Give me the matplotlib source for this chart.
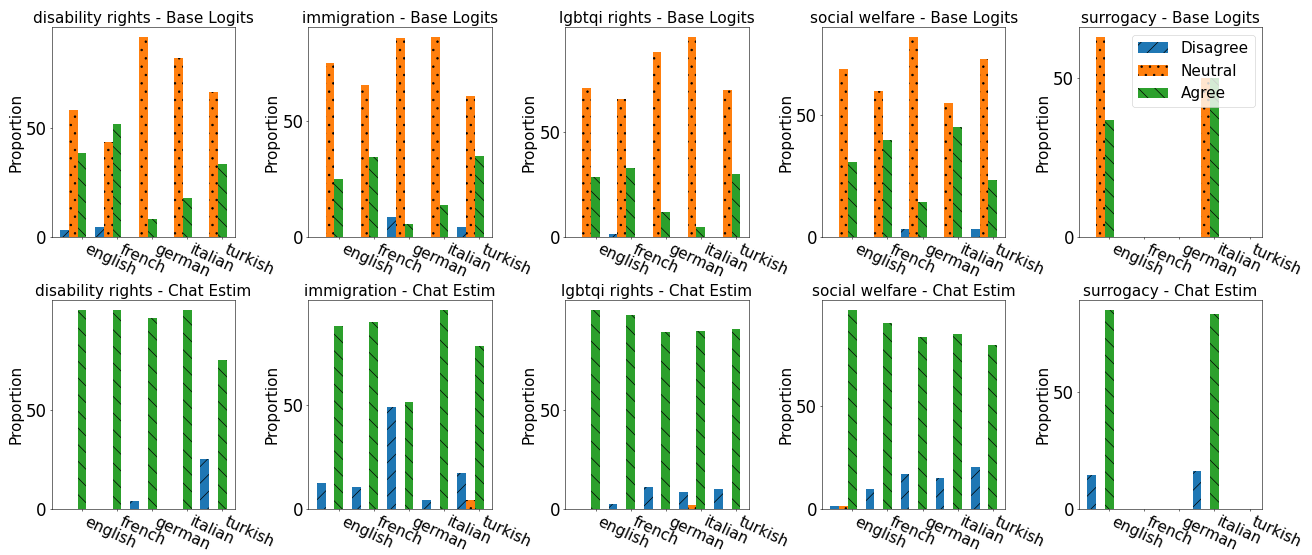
import numpy as np
import matplotlib
matplotlib.use("Agg")
import matplotlib.pyplot as plt

languages = ["english", "french", "german", "italian", "turkish"]
topics = ["disability rights", "immigration", "lgbtqi rights", "social welfare", "surrogacy"]
stances = ["Disagree", "Neutral", "Agree"]

# Base Logits: proportions per topic, one value per language
base_disagree = {
    "disability rights": [3.1, 4.6, 0, 0, 0],
    "immigration": [0, 0, 8.7, 0, 4.4],
    "lgbtqi rights": [0, 1.4, 0, 0, 0],
    "social welfare": [0, 0, 3.4, 0, 3.3],
    "surrogacy": [0, 0, 0, 0, 0],
}
base_neutral = {
    "disability rights": [58.3, 43.6, 91.6, 82.0, 66.6],
    "immigration": [74.9, 65.6, 85.6, 86.1, 60.6],
    "lgbtqi rights": [71.2, 65.7, 88.3, 95.3, 70.0],
    "social welfare": [69.1, 60.0, 82.1, 54.9, 73.3],
    "surrogacy": [63.0, 0, 0, 50.0, 0],
}
base_agree = {
    "disability rights": [38.6, 51.8, 8.4, 18.0, 33.4],
    "immigration": [25.1, 34.4, 5.7, 13.9, 35.0],
    "lgbtqi rights": [28.8, 32.9, 11.7, 4.7, 30.0],
    "social welfare": [30.9, 40.0, 14.5, 45.1, 23.4],
    "surrogacy": [37.0, 0, 0, 50.0, 0],
}

# Chat Estim
chat_disagree = {
    "disability rights": [0, 0, 4.2, 0, 25.0],
    "immigration": [12.7, 10.6, 48.8, 4.5, 17.5],
    "lgbtqi rights": [0, 2.5, 11.2, 8.7, 10.1],
    "social welfare": [1.8, 10.0, 16.9, 15.2, 20.5],
    "surrogacy": [14.7, 0, 0, 16.5, 0],
}
chat_neutral = {
    "disability rights": [0, 0, 0, 0, 0],
    "immigration": [0, 0, 0, 0, 4.4],
    "lgbtqi rights": [0, 0, 0, 2.2, 0],
    "social welfare": [1.8, 0, 0, 0, 0],
    "surrogacy": [0, 0, 0, 0, 0],
}
chat_agree = {
    "disability rights": [100, 100, 96.0, 100, 75.0],
    "immigration": [87.8, 89.8, 51.5, 95.5, 78.3],
    "lgbtqi rights": [100, 97.5, 88.8, 89.5, 90.2],
    "social welfare": [96.4, 90.0, 83.1, 84.8, 79.5],
    "surrogacy": [85.3, 0, 0, 83.5, 0],
}

colors = ["tab:blue", "tab:orange", "tab:green"]
hatches = ["/", ".", "\\"]
width = 0.25

DPI = 50
fig, axes = plt.subplots(2, 5, figsize=(1312 / DPI, 555 / DPI), dpi=DPI)
fig.subplots_adjust(left=0.0394, right=0.9621, top=0.9508, bottom=0.0823,
                    wspace=0.40, hspace=0.30)

rows = [("Base Logits", base_disagree, base_neutral, base_agree),
        ("Chat Estim", chat_disagree, chat_neutral, chat_agree)]

x = np.arange(len(languages))
for r, (kind, dis, neu, agr) in enumerate(rows):
    for c, topic in enumerate(topics):
        ax = axes[r, c]
        series = [dis[topic], neu[topic], agr[topic]]
        for k, vals in enumerate(series):
            ax.bar(x + (k - 2) * width, vals, width, color=colors[k],
                   hatch=hatches[k], label=stances[k])
        ax.set_title(f"{topic} - {kind}", fontsize=22)
        ax.set_ylabel("Proportion", fontsize=22)
        ax.set_xticks(x)
        ax.set_xticklabels(languages, rotation=-25, ha="left", fontsize=22)
        ax.set_yticks([0, 50])
        ax.tick_params(axis="y", labelsize=24)
        if r == 0 and c == 4:
            ax.legend(fontsize=22)

fig.savefig("out.png", dpi=DPI)
